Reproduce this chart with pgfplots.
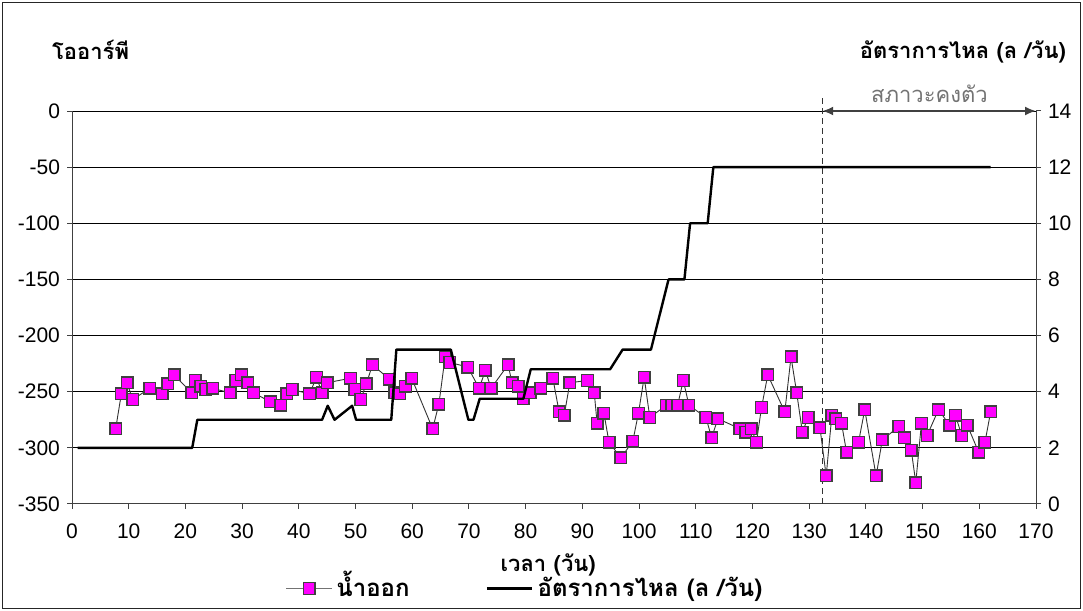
\documentclass[border=0pt]{standalone}
\usepackage{fontspec}
\setmainfont{Liberation Sans}
\newfontfamily\thai[Script=Thai]{Loma}
\usepackage{pgfplots}
\usepackage{pgfplotstable}
\pgfplotsset{compat=1.18}
\usetikzlibrary{arrows.meta}
\definecolor{mag}{RGB}{255,0,255}
\definecolor{edge}{RGB}{64,64,64}

% ORP of the outflow (left axis)
\pgfplotstableread{
x y
7.7 -283
8.7 -252
9.7 -242
10.7 -257
13.7 -247
15.9 -252
16.9 -243
18.0 -235
21.1 -251
21.7 -240
22.7 -245
23.6 -248
24.8 -247
27.9 -251
28.9 -240
29.9 -235
31.0 -242
32.0 -251
35.0 -259
36.8 -262
37.9 -252
38.8 -248
41.9 -252
43.1 -237
44.1 -251
45.0 -242
49.1 -238
49.9 -248
50.9 -257
51.9 -243
53.0 -226
56.0 -239
56.9 -251
57.8 -252
58.8 -245
59.9 -238
63.6 -283
64.7 -261
65.8 -219
66.6 -224
69.8 -228
71.8 -247
72.9 -231
73.9 -247
76.9 -226
77.6 -242
78.7 -245
79.6 -256
80.8 -251
82.7 -247
84.8 -238
85.9 -268
86.8 -271
87.8 -242
90.9 -240
92.1 -251
92.6 -278
93.8 -269
94.7 -295
96.8 -309
98.9 -294
99.9 -269
100.9 -237
101.9 -273
104.8 -262
105.8 -262
106.8 -262
107.8 -240
108.8 -262
111.8 -273
112.8 -291
113.9 -274
117.8 -283
118.8 -286
119.8 -283
120.7 -295
121.6 -264
122.7 -235
125.7 -268
126.8 -219
127.8 -251
128.8 -286
129.8 -273
131.9 -282
133.0 -325
134.0 -271
134.7 -274
135.7 -278
136.6 -304
138.7 -295
139.8 -266
141.8 -325
142.9 -293
145.8 -281
146.8 -291
148.0 -302
148.8 -331
149.8 -278
150.8 -289
152.8 -266
154.8 -280
155.8 -271
156.9 -289
157.9 -280
159.9 -304
161.0 -295
162.0 -268
}\outflow

% flow rate (right axis)
\pgfplotstableread{
x f
1 2
21.2 2
22.1 3
44.1 3
45.1 3.5
46.3 3
49.4 3.5
50.1 3
56.3 3
57.2 5.5
66.8 5.5
69.9 3
70.8 3
71.9 3.75
79.6 3.75
80.9 4.8
94.9 4.8
97.1 5.5
102.1 5.5
105.2 8
108.0 8
109.0 10
112.1 10
113.1 12
162 12
}\flow

\begin{document}
\begin{tikzpicture}[font=\fontsize{10.5}{12}\selectfont]
\path[use as bounding box] (0,0) rectangle (541.5pt,305.5pt);
\draw[black!85, line width=0.6pt] (1.2pt,1.2pt) rectangle (540.3pt,304.3pt);

\pgfplotsset{
  common/.style={
    at={(36pt,53.5pt)}, anchor=south west,
    scale only axis, width=482pt, height=196.5pt,
    xmin=0, xmax=170,
    /pgf/number format/assume math mode=true,
    tick align=outside, major tick length=2.5pt,
    tick style={black!75, line width=0.5pt},
    axis line style={black!75, line width=0.5pt},
    clip=false,
  },
  dotstyle/.style={black!80, line width=0.45pt, mark=square*, mark size=2.9pt,
    mark options={fill=mag, draw=edge, line width=0.7pt, solid}},
}

\begin{axis}[common,
  ymin=-350, ymax=0,
  xtick={0,10,...,170},
  ytick={-350,-300,...,0},
  yticklabels={-350,-300,-250,-200,-150,-100,-50,0},
  xticklabel style={yshift=-4pt},
  axis y line*=left, axis x line*=bottom,
  ymajorgrids, grid style={black, line width=0.5pt},
  xlabel={\thai\bfseries\fontsize{11}{12}\selectfont เวลา (วัน)},
  xlabel style={at={(axis description cs:0.494,-0.155)}, anchor=center},
]
\addplot[dotstyle] table[x=x, y=y] {\outflow};
\draw[black!80, line width=0.6pt, dash pattern=on 3pt off 2pt]
  (axis cs:132.3,-350) -- ([yshift=8pt]axis cs:132.3,0);
\draw[{Latex[length=5.5pt,width=4.5pt]}-{Latex[length=5.5pt,width=4.5pt]}, black!75, line width=1pt]
  (axis cs:132.3,0) -- (axis cs:170,0);
\node[text=black!55] at ([yshift=8.5pt]axis cs:151.2,0) {\thai\fontsize{11}{12}\selectfont สภาวะคงตัว};
\end{axis}

\begin{axis}[common,
  ymin=0, ymax=14,
  ytick={0,2,...,14},
  axis y line*=right, axis x line=none,
  legend columns=2,
  legend style={at={(axis description cs:0.471,-0.215)}, anchor=center,
    draw=none, fill=none, font=\thai\bfseries\fontsize{12}{13}\selectfont,
    inner sep=0pt,
    nodes={text height=9pt, text depth=1pt, inner sep=2pt},
    /tikz/every even column/.append style={column sep=36pt}},
  legend image code/.code={\draw[mark repeat=2, mark phase=2, #1]
    plot coordinates {(0cm,0cm) (0.4cm,0cm) (0.8cm,0cm)};},
]
\addlegendimage{dotstyle, black!55, line width=0.6pt}
\addlegendentry{น้ำออก}
\addplot[black, line width=1.2pt, line join=round] table[x=x, y=f] {\flow};
\addlegendentry{อัตราการไหล (ล /วัน)}
\end{axis}

\node[anchor=west] at (22.5pt,280.5pt) {\thai\bfseries\fontsize{11}{12}\selectfont โออาร์พี};
\node[anchor=east] at (536.5pt,279.5pt) {\thai\bfseries\fontsize{11}{12}\selectfont อัตราการไหล (ล /วัน)};
\end{tikzpicture}
\end{document}
